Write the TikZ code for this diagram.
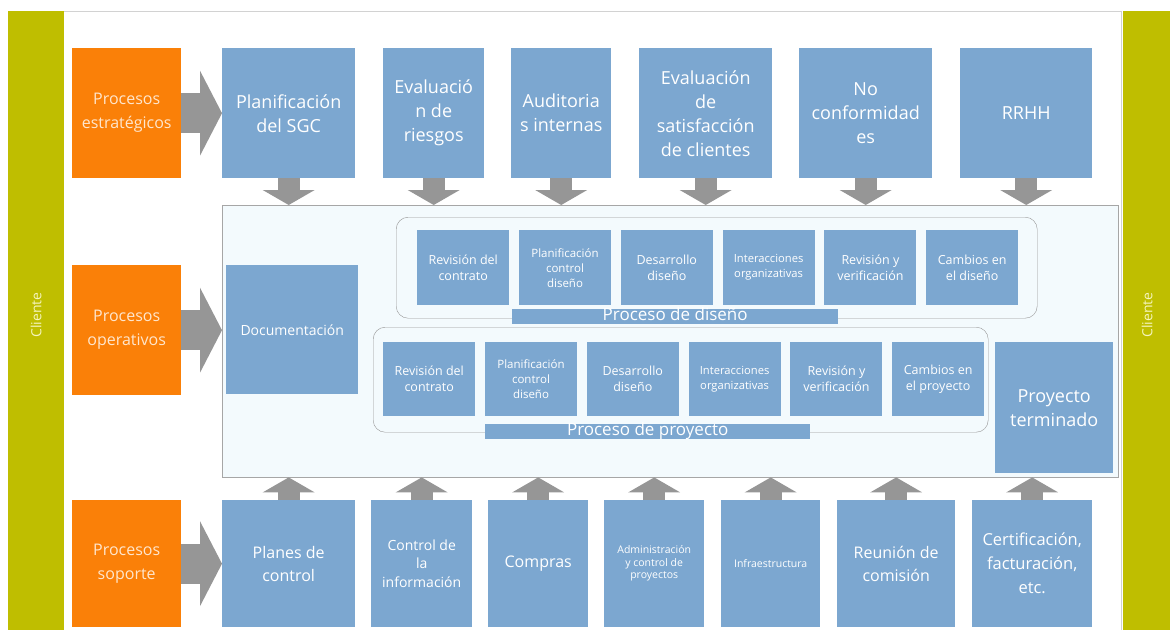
\documentclass[tikz,border=0pt]{standalone}
\usepackage{fontspec}
\setmainfont{Open Sans}
\usetikzlibrary{arrows.meta}

\definecolor{verdecli}{RGB}{191,190,0}
\definecolor{textocli}{RGB}{245,245,190}
\definecolor{naranja}{RGB}{250,128,8}
\definecolor{textonar}{RGB}{255,230,205}
\definecolor{azulcaja}{RGB}{124,167,208}
\definecolor{grisflecha}{RGB}{150,150,150}
\definecolor{fondomedio}{RGB}{243,250,253}

\begin{document}
\begin{tikzpicture}[x=1pt, y=-1pt,
    caja/.style={fill=azulcaja, text=white, align=center, inner sep=0pt, anchor=north west},
    proc/.style={fill=naranja, text=textonar, align=center, inner sep=0pt, anchor=north west,
        minimum width=109pt, font=\fontsize{16}{24}\selectfont},
    grande/.style={font=\fontsize{18}{24}\selectfont},
    media/.style={font=\fontsize{16}{23}\selectfont},
    grupo/.style={draw=grisflecha, rounded corners=12pt, inner sep=0pt, anchor=north west},
    barra/.style={fill=azulcaja, text=white, inner sep=0pt, anchor=north west,
        text height=11pt, text depth=4pt, font=\fontsize{17}{20}\selectfont},
    flechader/.style={grisflecha, line width=40pt, -{Triangle[length=22pt, width=85pt, line width=0pt]}},
    flechavert/.style={grisflecha, line width=22pt, -{Triangle[length=15pt, width=52pt, line width=0pt]}}]

    \useasboundingbox (0,0) rectangle (1170,630);

    % Cliente bars on both sides
    \fill[verdecli] (8,11) rectangle (64,630);
    \fill[verdecli] (1123,11) rectangle (1170,630);
    \node[rotate=90, text=textocli, font=\fontsize{14}{16}\selectfont] (cliizq) at (36,315) {Cliente};
    \node[rotate=90, text=textocli, font=\fontsize{14}{16}\selectfont] (clider) at (1147,315) {Cliente};
    \draw[gray!35] (64,11) -- (1121,11) -- (1121,630);

    % Procesos (orange)
    \node[proc, minimum height=130pt] (estr) at (72,48) {Procesos\\estratégicos};
    \node[proc, minimum height=130pt] (oper) at (72,265) {Procesos\\operativos};
    \node[proc, minimum height=127pt] (sopo) at (72,500) {Procesos\\soporte};

    % Strategic row
    \node[caja, grande, minimum width=133pt, minimum height=130pt] (plan) at (222,48) {Planificación\\del SGC};
    \node[caja, grande, minimum width=101pt, minimum height=130pt] (ries) at (383,48) {Evaluació\\n de\\riesgos};
    \node[caja, grande, minimum width=100pt, minimum height=130pt] (audi) at (511,48) {Auditoria\\s internas};
    \node[caja, grande, minimum width=133pt, minimum height=130pt] (sati) at (639,48) {Evaluación\\de\\satisfacción\\de clientes};
    \node[caja, grande, minimum width=133pt, minimum height=130pt] (noco) at (799,48) {No\\conformidad\\es};
    \node[caja, grande, minimum width=132pt, minimum height=130pt] (rrhh) at (960,48) {RRHH};

    % Operative area
    \node[fill=fondomedio, draw=gray!70, inner sep=0pt, anchor=north west,
        minimum width=896pt, minimum height=272pt] (medio) at (222,205) {};
    \node[caja, font=\fontsize{14}{18}\selectfont, minimum width=132pt, minimum height=129pt] (docu) at (226,265) {Documentación};

    % Proceso de diseño
    \node[grupo, minimum width=641pt, minimum height=101pt] (gdis) at (396,217) {};
    \foreach \t/\s/\b [count=\i from 0] in {Revisión del\\contrato/12.5/16, Planificación\\control\\diseño/11.5/15,
        Desarrollo\\diseño/12.5/16, Interacciones\\organizativas/11.2/15, Revisión y\\verificación/12.5/16,
        Cambios en\\el diseño/12.5/16}
        \node[caja, font=\fontsize{\s}{\b}\selectfont, minimum width=92pt, minimum height=75pt] (dis\i) at ({417+\i*101.8},230) {\t};
    \node[barra, minimum width=326pt] (bdis) at (512,309) {Proceso de diseño};

    % Proceso de proyecto
    \node[grupo, minimum width=615pt, minimum height=105pt] (gpro) at (373,327) {};
    \foreach \t/\s/\b [count=\i from 0] in {Revisión del\\contrato/12.5/16, Planificación\\control\\diseño/11.5/15,
        Desarrollo\\diseño/12.5/16, Interacciones\\organizativas/11.2/15, Revisión y\\verificación/12.5/16,
        Cambios en\\el proyecto/12.5/16}
        \node[caja, font=\fontsize{\s}{\b}\selectfont, minimum width=92pt, minimum height=74pt] (pro\i) at ({383+\i*101.8},342) {\t};
    \node[barra, minimum width=325pt] (bpro) at (485,424) {Proceso de proyecto};

    \node[caja, grande, minimum width=118pt, minimum height=131pt] (term) at (995,342) {Proyecto\\terminado};

    % Support row
    \node[caja, media, minimum width=133pt, minimum height=127pt] (plac) at (222,500) {Planes de\\control};
    \node[caja, font=\fontsize{14}{18.5}\selectfont, minimum width=101pt, minimum height=127pt] (cinf) at (371,500) {Control de\\la\\información};
    \node[caja, media, minimum width=100pt, minimum height=127pt] (comp) at (488,500) {Compras};
    \node[caja, font=\fontsize{10.5}{12.5}\selectfont, minimum width=100pt, minimum height=127pt] (admi) at (604,500) {Administración\\y control de\\proyectos};
    \node[caja, font=\fontsize{10.5}{12.5}\selectfont, minimum width=99pt, minimum height=127pt] (infr) at (721,500) {Infraestructura};
    \node[caja, media, minimum width=118pt, minimum height=127pt] (reun) at (837,500) {Reunión de\\comisión};
    \node[caja, font=\fontsize{16.5}{24}\selectfont, minimum width=120pt, minimum height=127pt] (cert) at (972,500) {Certificación,\\facturación,\\etc.};

    % Arrows from the orange boxes
    \draw[flechader] (estr.east) -- (plan.west);
    \draw[flechader] (oper.east) -- (oper.east -| medio.west);
    \draw[flechader] (sopo.east) -- (plac.west);

    % Arrows down into the operative area
    \foreach \n in {plan, ries, audi, sati, noco, rrhh}
        \draw[flechavert] (\n.south) -- (\n.south |- medio.north);

    % Arrows up from support
    \foreach \n in {plac, cinf, comp, admi, infr, reun, cert}
        \draw[flechavert] (\n.north) -- (\n.north |- medio.south);
\end{tikzpicture}
\end{document}
